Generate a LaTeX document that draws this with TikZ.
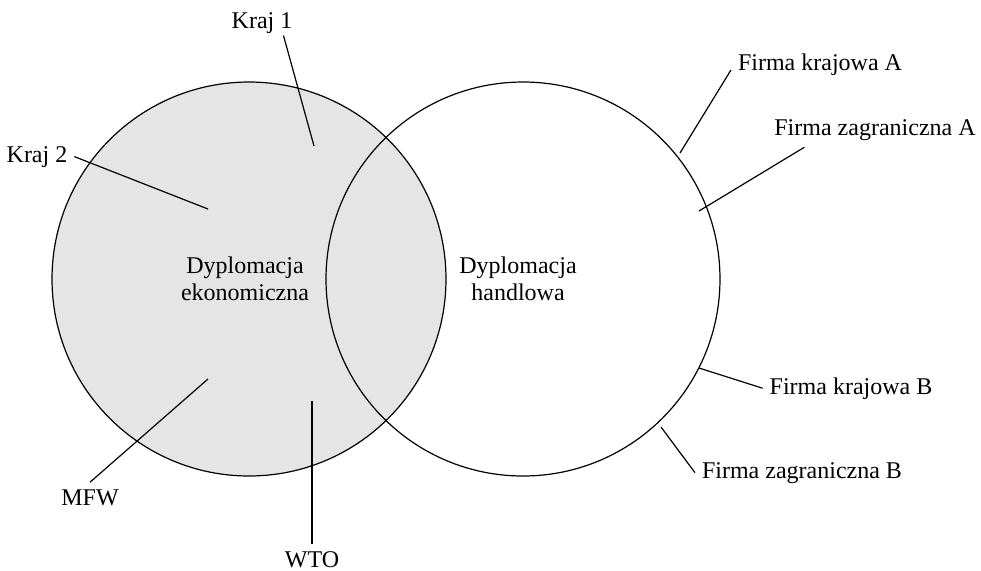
\documentclass[tikz,border=0pt]{standalone}
\usepackage{fontspec}
\setmainfont{Liberation Serif}
\begin{document}
\begin{tikzpicture}[x=0.5pt, y=-0.5pt,
		etiq/.style	= {font=\fontsize{12}{13.4}\selectfont},
		opis/.style	= {etiq, align=center},
		trait/.style	= {semithick}]
	% Cadre
	\useasboundingbox	(0,0)	rectangle	(981,570);
	% Kola
	\fill [color=gray!20]	(249,279)	circle	(197);
	\draw [trait]		(249,279)	circle	(197);	% ekonomiczna
	\draw [trait]		(523,279)	circle	(197);	% handlowa
	% Opisy kol
	\node [opis]	(dyplEk)	at (245,279)	{Dyplomacja\\ekonomiczna};
	\node [opis]	(dyplHa)	at (518,279)	{Dyplomacja\\handlowa};
	% Etykiety
	\node [etiq, anchor=base, inner sep=1pt]	(kraj1)	at (262,28)	{Kraj 1};
	\node [etiq, anchor=base]	(kraj2)	at (37,162)	{Kraj 2};
	\node [etiq, anchor=base]	(mfw)	at (90,505)	{MFW};
	\node [etiq, anchor=base]	(wto)	at (312,567)	{WTO};
	\node [etiq, anchor=base]	(fkA)	at (820,70)	{Firma krajowa A};
	\node [etiq, anchor=base]	(fzA)	at (875,135)	{Firma zagraniczna A};
	\node [etiq, anchor=base]	(fkB)	at (851,394)	{Firma krajowa B};
	\node [etiq, anchor=base]	(fzB)	at (802,478)	{Firma zagraniczna B};
	% Punkty w kolach
	\coordinate (k1)	at (314,146);
	\coordinate (k2)	at (208,209);
	\coordinate (m1)	at (208,379);
	\coordinate (w1)	at (312,401);
	\coordinate (a1)	at (680,153);
	\coordinate (a2)	at (699,211);
	\coordinate (b1)	at (699,368);
	\coordinate (b2)	at (661,427);
	% Linie
	\draw [trait]	(kraj1.-31)		-- (k1);
	\draw [trait]	(kraj2.east)		-- (k2);
	\draw [trait]	(mfw.north)		-- (m1);
	\draw [trait]	(wto.north)		-- (w1);
	\draw [trait]	(fkA.base west)	-- (a1);
	\draw [trait]	(fzA.-166)		-- (a2);
	\draw [trait]	(fkB.west)		-- (b1);
	\draw [trait]	(fzB.west)		-- (b2);
\end{tikzpicture}
\end{document}
